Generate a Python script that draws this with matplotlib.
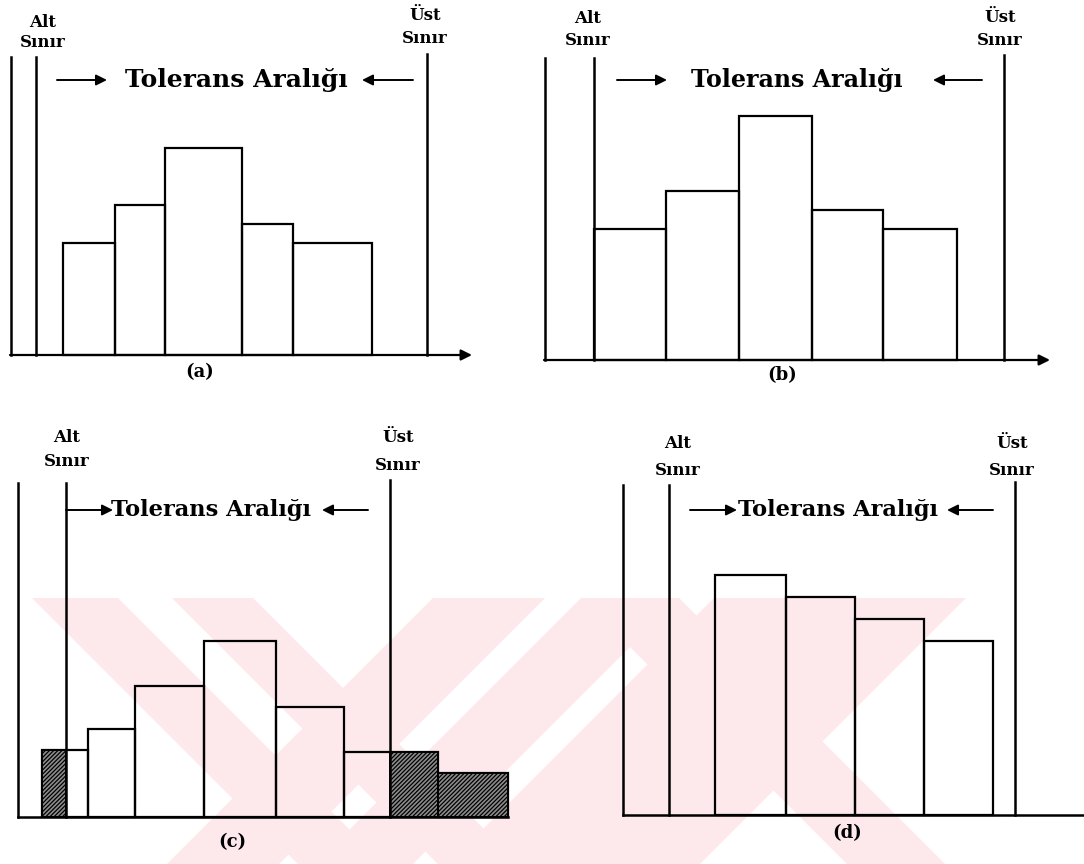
import numpy as np
import matplotlib.pyplot as plt
from matplotlib.patches import Polygon

W, H = 1084, 864

# ---- data (histogram bins and frequencies per panel) ----
# (a) normal spread, well inside the tolerance
a_edges = [52, 104, 154, 231, 282, 361]
a_freq = [112, 150, 207, 131, 112]
a_alt, a_ust = 25, 416

# (b) spread fills the whole tolerance range
b_edges = [49, 121, 194, 267, 338, 412]
b_freq = [131, 169, 244, 150, 131]
b_alt, b_ust = 49, 459

# (c) spread wider than the tolerance
c_edges = [24, 70, 117, 186, 258, 326, 420, 490]
c_freq = [67, 88, 131, 176, 110, 65, 44]
c_alt, c_ust = 48, 372

# (d) skewed distribution
d_edges = [92, 163, 232, 301, 370]
d_freq = [240, 218, 196, 174]
d_alt, d_ust = 46, 392

labels = ['(a)', '(b)', '(c)', '(d)']
tol_text = 'Tolerans Aralığı'

plt.rcParams['font.family'] = ['DejaVu Serif']
plt.rcParams['hatch.linewidth'] = 0.9

fig = plt.figure(figsize=(W / 100, H / 100), dpi=100)

# faint watermark in the lower half
bg = fig.add_axes([0, 0, 1, 1])
bg.set_xlim(0, W)
bg.set_ylim(H, 0)
bg.axis('off')
y0 = 598
L = H - y0
pink = '#fde8ec'
back = [(32, 86), (172, 81), (581, 98)]                      # "\" bands
fwd = [(433, 112), (581, 98), (714, 90), (800, 80), (876, 90)]  # "/" bands
for x0, w in back:
    bg.add_patch(Polygon([(x0, y0), (x0 + w, y0), (x0 + w + L, H), (x0 + L, H)],
                         closed=True, color=pink, lw=0))
for x0, w in fwd:
    bg.add_patch(Polygon([(x0, y0), (x0 + w, y0), (x0 + w - L, H), (x0 - L, H)],
                         closed=True, color=pink, lw=0))


def panel(px, edges, freq, alt, ust, arrow, tol, txt, hatch=False):
    # px = (left, right, top, baseline) in pixels
    left, right, top, base = px
    xmax, ymax = right - left, base - top
    ax = fig.add_axes([left / W, 1 - base / H, xmax / W, ymax / H])
    ax.set_xlim(0, xmax)
    ax.set_ylim(0, ymax)
    ax.axis('off')

    ax.plot([0, 0], [0, ymax], color='black', lw=1.8, clip_on=False)
    if arrow:
        ax.annotate('', xy=(xmax, 0), xytext=(-1, 0), annotation_clip=False,
                    arrowprops=dict(arrowstyle='-|>', color='black', lw=1.6,
                                    mutation_scale=16, shrinkA=0, shrinkB=0))
    else:
        ax.plot([0, xmax], [0, 0], color='black', lw=1.8, clip_on=False)

    ax.plot([alt, alt], [0, ymax], color='black', lw=1.8, clip_on=False)
    ax.plot([ust, ust], [0, ymax + 3], color='black', lw=1.8, clip_on=False)

    widths = np.diff(edges)
    ax.bar(edges[:-1], freq, width=widths, align='edge', facecolor='none',
           edgecolor='black', lw=1.6, clip_on=False)
    if hatch:
        for l, w, f in zip(edges[:-1], widths, freq):
            r = l + w
            for a, b in [(l, min(r, alt)), (max(l, ust), r)]:
                if b > a:
                    ax.bar(a, f, width=b - a, align='edge', facecolor='#8c8c8c',
                           edgecolor='black', hatch='////////', lw=1.4,
                           clip_on=False)

    # limit labels
    xa, xu, ya1, ya2, yu1, yu2 = txt
    kw = dict(ha='center', va='center', fontsize=12, fontweight='bold')
    ax.text(xa, ymax + ya1, 'Alt', **kw)
    ax.text(xa, ymax + ya2, 'Sınır', **kw)
    ax.text(xu, ymax + yu1, 'Üst', **kw)
    ax.text(xu, ymax + yu2, 'Sınır', **kw)

    # tolerance arrows
    la, lb, rc, ra, rb, ty, fs = tol
    ax.text(rc, ty, tol_text, ha='center', va='center', fontsize=fs,
            fontweight='bold')
    for s, e in [(la, lb), (ra, rb)]:
        ax.annotate('', xy=(e, ty), xytext=(s, ty), annotation_clip=False,
                    arrowprops=dict(arrowstyle='-|>', color='black', lw=1.4,
                                    mutation_scale=16, shrinkA=0, shrinkB=0))
    return ax


ax = panel((11, 472, 57, 355), a_edges, a_freq, a_alt, a_ust, True,
           (46, 96, 225, 402, 351, 275, 18.0), (32, 414, 35, 15, 42, 19))
ax.text(189, -17, labels[0], ha='center', va='center', fontsize=13, fontweight='bold')

ax = panel((545, 1050, 58, 360), b_edges, b_freq, b_alt, b_ust, True,
           (72, 122, 252, 437, 388, 280, 17.1), (43, 455, 40, 18, 41, 18))
ax.text(237, -15, labels[1], ha='center', va='center', fontsize=13, fontweight='bold')

ax = panel((18, 508, 483, 817), c_edges, c_freq, c_alt, c_ust, False,
           (48, 95, 193, 350, 304, 307, 16.2), (49, 380, 45, 21, 45, 18), hatch=True)
ax.text(214, -25, labels[2], ha='center', va='center', fontsize=13, fontweight='bold')

ax = panel((623, 1084, 485, 815), d_edges, d_freq, d_alt, d_ust, False,
           (67, 114, 215, 370, 324, 305, 16.2), (55, 389, 42, 15, 42, 15))
ax.text(224, -18, labels[3], ha='center', va='center', fontsize=13, fontweight='bold')

fig.savefig('out.png', dpi=100)
